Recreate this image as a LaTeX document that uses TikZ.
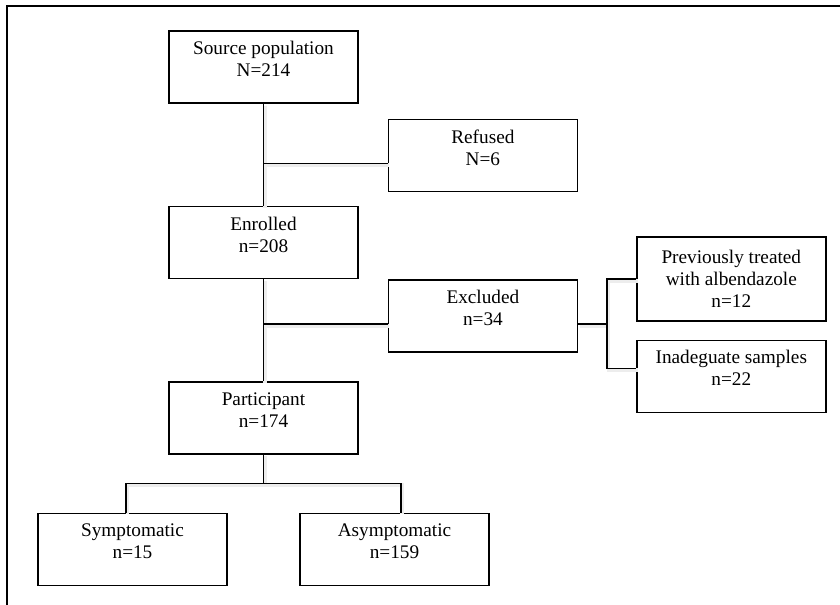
\documentclass[tikz,border=0pt]{standalone}
\usepackage{fontspec}
\setmainfont{Liberation Serif}
\usetikzlibrary{positioning,calc}

\begin{document}
\begin{tikzpicture}[
  font=\fontsize{13.7}{15.6}\selectfont,
  node distance=25.5mm,
  box/.style={draw, line width=1pt, align=center, minimum width=47.25mm,
              minimum height=18mm, inner sep=1mm},
  link/.style={draw, line width=1pt,
               preaction={draw=black!7, line width=2.8pt,
                          transform canvas={shift={(0.35mm,-0.45mm)}}}}
]
\useasboundingbox (-65.875mm,16.75mm) rectangle (144.125mm,-134.5mm);
\draw[line width=1pt] (-64.125mm,-134.5mm) |- (144.125mm,15.25mm);
% boxes
\node[box] (src) {Source population\\N=214\\[-1.5mm]\mbox{}};
\node[box, below right=3.75mm and 7.25mm of src] (ref) {Refused\\N=6\\[-1.5mm]\mbox{}};
\node[box, below=of src] (enr) {Enrolled\\n=208\\[-1.5mm]\mbox{}};
\node[box, below right=0mm and 7.25mm of enr] (excl) {Excluded\\n=34\\[-1.5mm]\mbox{}};
\node[box, below=of enr] (part) {Participant\\n=174\\[-1.5mm]\mbox{}};
\node[box, minimum height=21mm, right=14.5mm of excl, yshift=9.25mm] (prev) {Previously treated\\with albendazole\\n=12};
\node[box, below=4.5mm of prev] (inad) {Inadeguate samples\\n=22\\[-1.5mm]\mbox{}};
\node[box, below=14.5mm of part, xshift=-32.75mm] (sym) {Symptomatic\\n=15\\[-1.5mm]\mbox{}};
\node[box, below=14.5mm of part, xshift=32.75mm] (asym) {Asymptomatic\\n=159\\[-1.5mm]\mbox{}};
% joints
\coordinate (refj) at ([yshift=-2mm]ref.west);
\coordinate (exclj) at ([yshift=-2mm]excl.west);
\coordinate (exclo) at ([yshift=-2mm]excl.east);
\coordinate (split) at ([xshift=7.25mm]exclo);
\coordinate (inadj) at ([yshift=2mm]inad.west);
\coordinate (fork) at ([yshift=-7.25mm]part.south);
% connectors
\draw[link] (src) -- (enr);
\draw[link] (enr) -- (part);
\draw[link] (refj) -- (refj -| src);
\draw[link] (exclj) -- (exclj -| enr);
\draw[link] (exclo) -- (split);
\draw[link] (prev.west) -| (split) |- (inadj);
\draw[link] (part) -- (fork);
\draw[link] (fork) -| ([xshift=-1.6mm]sym.north);
\draw[link] (fork) -| ([xshift=1.6mm]asym.north);
\end{tikzpicture}
\end{document}
